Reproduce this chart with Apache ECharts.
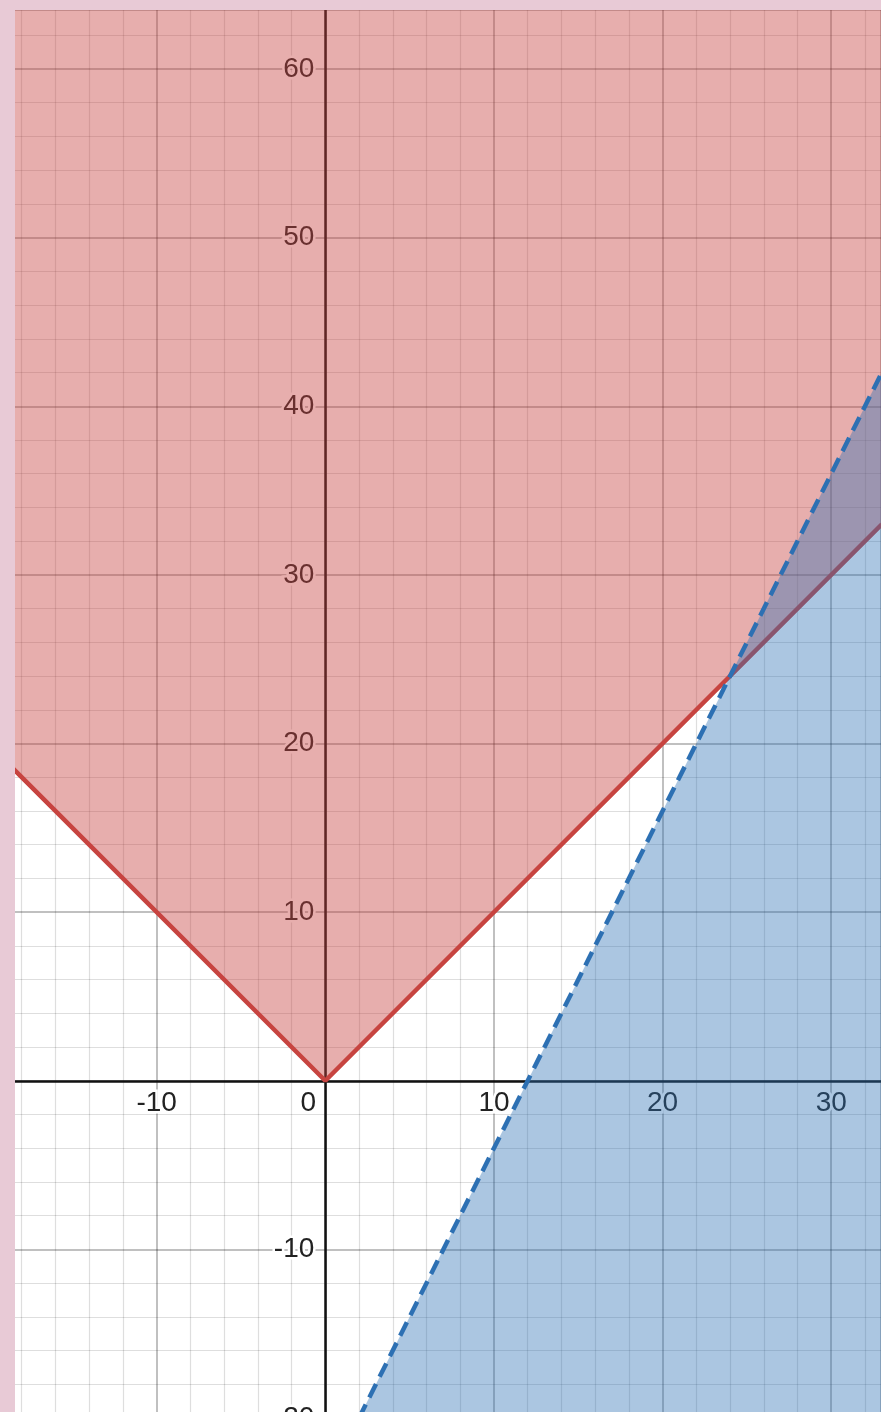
<!DOCTYPE html>
<html>
<head>
<meta charset="utf-8">
<style>
html,body{margin:0;padding:0;background:#e8cad6;}
#chart{width:881px;height:1412px;}
</style>
<script src="https://cdn.jsdelivr.net/npm/echarts@6/dist/echarts.min.js"></script>
</head>
<body>
<div id="chart"></div>
<script>
// Axis ranges
const xRange = [-20, 32.95];
const yRange = [-20, 63.5];
const majorStep = 10;
// Boundary of y >= |x| (solid red)
const redBoundary = [[-20, 20], [0, 0], [33, 33]];
// Boundary of y < 2x - 24 (dashed blue)
const blueBoundary = [[2, -20], [33, 42]];

const labelFont = {
  fontSize: 28,
  fontFamily: 'Liberation Sans, Arial, sans-serif',
  color: '#222',
  textBorderColor: '#ffffff',
  textBorderWidth: 5
};

const chart = echarts.init(document.getElementById('chart'), null, {renderer: 'canvas'});
chart.setOption({
  animation: false,
  backgroundColor: '#ffffff',
  grid: {left: -12, right: 0, top: 10, bottom: -6, containLabel: false, outerBoundsMode: 'none'},
  xAxis: {
    type: 'value', min: xRange[0], max: xRange[1], interval: majorStep,
    axisLine: {onZero: false, lineStyle: {color: '#111', width: 2.5}},
    axisTick: {show: false},
    axisLabel: Object.assign({}, labelFont, {
      margin: 9,
      showMinLabel: true, showMaxLabel: true,
      hideOverlap: false,
      formatter: function (v) {
        if (Math.abs(v % majorStep) > 1e-6) return '';
        if (v === 0) return '{z|0}';
        return String(v);
      },
      rich: {z: Object.assign({}, labelFont, {padding: [0, 34, 0, 0]})}
    }),
    splitLine: {show: true, lineStyle: {color: 'rgba(0,0,0,0.33)', width: 1.5}},
    minorTick: {show: false, splitNumber: 5},
    minorSplitLine: {show: true, lineStyle: {color: 'rgba(0,0,0,0.13)', width: 1.2}}
  },
  yAxis: {
    type: 'value', min: yRange[0], max: yRange[1], interval: majorStep,
    axisLine: {onZero: false, lineStyle: {color: '#111', width: 2.5}},
    axisTick: {show: false},
    axisLabel: Object.assign({}, labelFont, {
      margin: 11,
      showMinLabel: true,
      hideOverlap: false,
      formatter: function (v) {
        if (Math.abs(v % majorStep) > 1e-6) return '';
        if (v === 0) return '';
        return String(v);
      }
    }),
    splitLine: {show: true, lineStyle: {color: 'rgba(0,0,0,0.33)', width: 1.5}},
    minorTick: {show: false, splitNumber: 5},
    minorSplitLine: {show: true, lineStyle: {color: 'rgba(0,0,0,0.13)', width: 1.2}}
  },
  series: [
    {
      type: 'line', data: redBoundary, symbol: 'none', clip: true,
      lineStyle: {color: '#c74440', width: 4.5},
      areaStyle: {color: 'rgba(199,68,64,0.43)', opacity: 1, origin: 'end'},
      z: 2
    },
    {
      type: 'line', data: blueBoundary, symbol: 'none', clip: true,
      lineStyle: {color: '#2d70b3', width: 4.5, type: [15, 8]},
      areaStyle: {color: 'rgba(45,112,179,0.4)', opacity: 1, origin: 'start'},
      z: 3
    }
  ],
  graphic: [
    {type: 'rect', left: 0, top: 0, shape: {width: 15, height: 1412}, style: {fill: '#e8cad6'}, z: 100},
    {type: 'rect', left: 0, top: 0, shape: {width: 881, height: 10}, style: {fill: '#e8cad6'}, z: 100}
  ]
});

// Move both axes (line + labels) onto the origin using the library's own scales
const origin = chart.convertToPixel({gridIndex: 0}, [0, 0]);
const corner = chart.convertToPixel({gridIndex: 0}, [xRange[0], yRange[0]]);
chart.setOption({
  xAxis: {offset: -(corner[1] - origin[1])},
  yAxis: {offset: -(origin[0] - corner[0])}
});
</script>
</body>
</html>
